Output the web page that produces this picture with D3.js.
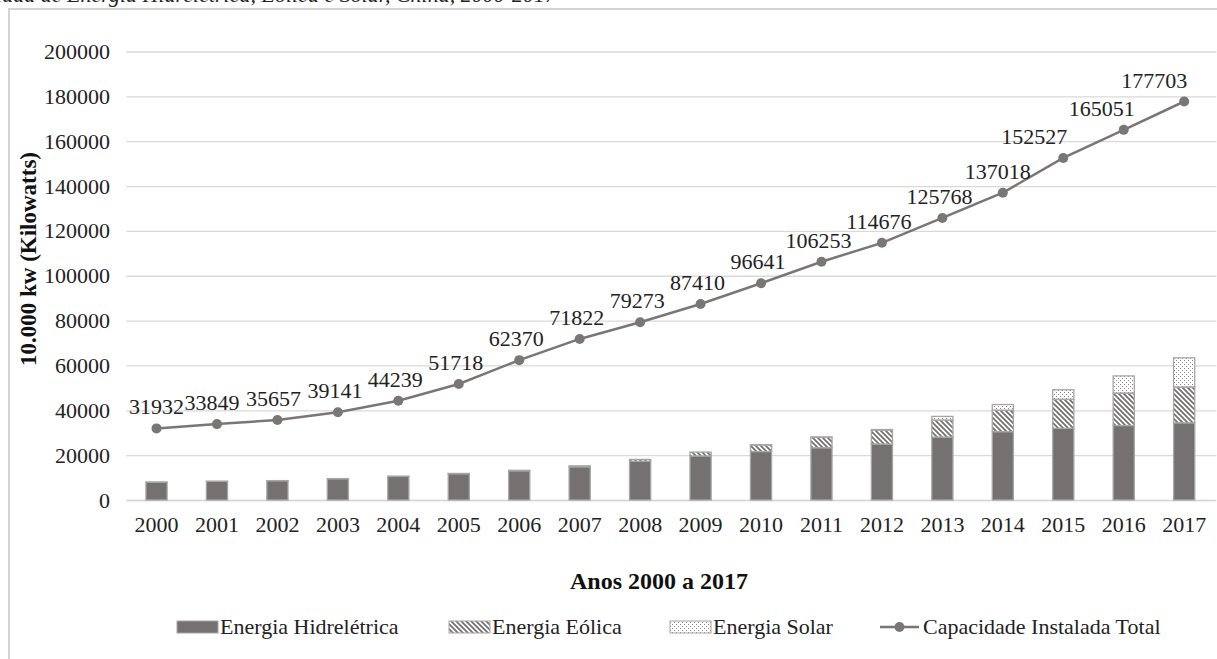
<!DOCTYPE html>
<html>
<head>
<meta charset="utf-8">
<script src="https://cdn.jsdelivr.net/npm/d3@7"></script>
<style>
  body { margin: 0; background: #fff; }
  svg { display: block; font-family: "Liberation Serif", "Times New Roman", serif; }
</style>
</head>
<body>
<div id="chart"></div>
<script>
// anos e valores (10.000 kW)
var years = ["2000", "2001", "2002", "2003", "2004", "2005", "2006", "2007", "2008",
  "2009", "2010", "2011", "2012", "2013", "2014", "2015", "2016", "2017"];
var hidro = [7935, 8300, 8600, 9490, 10520, 11740, 13030, 14820, 17260,
  19630, 21610, 23300, 24950, 28040, 30490, 31950, 33210, 34410];
var eolica = [30, 40, 50, 60, 80, 110, 210, 420, 840,
  1760, 2960, 4620, 6140, 7650, 9600, 13000, 14500, 16000];
var solar = [0, 0, 0, 0, 0, 0, 0, 0, 0,
  0, 80, 210, 340, 1590, 2490, 4220, 7630, 13000];
var total = [31932, 33849, 35657, 39141, 44239, 51718, 62370, 71822, 79273,
  87410, 96641, 106253, 114676, 125768, 137018, 152527, 165051, 177703];
var yTicks = [0, 20000, 40000, 60000, 80000, 100000, 120000, 140000, 160000, 180000, 200000];
var seriesNames = ["Energia Hidrelétrica", "Energia Eólica", "Energia Solar", "Capacidade Instalada Total"];

// deslocamento manual dos rótulos da linha (como no original)
var labelShift = [0, -5, -4, -3, -3, -3, -3, -3, -3, -3, -3, -3, -3, -3, -5, -29, -22, -30];

var width = 1217, height = 659;
var dark = "#767171", lineColor = "#7a7676", grid = "#d9d9d9";

var svg = d3.select("#chart").append("svg")
  .attr("width", width)
  .attr("height", height);

var defs = svg.append("defs");
var pw = defs.append("pattern").attr("id", "wind")
  .attr("patternUnits", "userSpaceOnUse").attr("width", 5).attr("height", 5);
pw.append("rect").attr("width", 5).attr("height", 5).attr("fill", "#fff");
pw.append("path").attr("d", "M0,0L5,5M-1,4L1,6M4,-1L6,1")
  .attr("stroke", dark).attr("stroke-width", 1.8);

var ps = defs.append("pattern").attr("id", "sun")
  .attr("patternUnits", "userSpaceOnUse").attr("width", 4).attr("height", 4);
ps.append("rect").attr("width", 4).attr("height", 4).attr("fill", "#fff");
ps.append("rect").attr("x", 0).attr("y", 0).attr("width", 1).attr("height", 1).attr("fill", "#8a8686");
ps.append("rect").attr("x", 2).attr("y", 2).attr("width", 1).attr("height", 1).attr("fill", "#8a8686");

// moldura
svg.append("rect").attr("x", 9).attr("y", 9).attr("width", 1400).attr("height", 800)
  .attr("fill", "none").attr("stroke", "#d4d4d4").attr("stroke-width", 2);

// titulo cortado no topo
svg.append("text")
  .attr("x", 556).attr("y", 2)
  .attr("text-anchor", "end")
  .attr("font-style", "italic")
  .attr("font-size", 22)
  .attr("fill", "#222")
  .text("Capacidade Instalada de Energia Hidrelétrica, Eólica e Solar, China, 2000-2017");

var x = d3.scaleBand().domain(years).range([126.3, 1214.4]).padding(0);
var y = d3.scaleLinear().domain([0, 200000]).range([500, 51.5]);
var barW = x.bandwidth() * 0.35;

// grade
svg.append("g")
  .attr("transform", "translate(126.3,0)")
  .call(d3.axisLeft(y).tickValues(yTicks).tickSize(-1090).tickFormat(""))
  .call(g => g.select(".domain").remove())
  .call(g => g.selectAll("line").attr("stroke", grid).attr("stroke-width", 1.3));

// rotulos do eixo y
svg.append("g")
  .attr("transform", "translate(110,0)")
  .call(d3.axisLeft(y).tickValues(yTicks).tickSize(0).tickPadding(0).tickFormat(d3.format("d")))
  .call(g => g.select(".domain").remove())
  .call(g => g.selectAll("text").attr("font-size", 22).attr("fill", "#222")
    .attr("font-family", "Liberation Serif"));

// eixo x
svg.append("g")
  .attr("transform", "translate(0,500)")
  .call(d3.axisBottom(x).tickSize(0).tickPadding(16))
  .call(g => g.select(".domain").attr("stroke", grid).attr("stroke-width", 1.3))
  .call(g => g.selectAll("text").attr("font-size", 22).attr("fill", "#222")
    .attr("font-family", "Liberation Serif"));

// barras empilhadas
var rows = years.map((yr, i) => ({ year: yr, hidro: hidro[i], eolica: eolica[i], solar: solar[i] }));
var stack = d3.stack().keys(["hidro", "eolica", "solar"])(rows);
var fills = { hidro: dark, eolica: "url(#wind)", solar: "url(#sun)" };

svg.append("g").selectAll("g")
  .data(stack)
  .enter().append("g")
  .attr("fill", d => fills[d.key])
  .selectAll("rect")
  .data(d => d)
  .enter().append("rect")
  .filter(d => d[1] - d[0] > 0)
  .attr("x", d => x(d.data.year) + (x.bandwidth() - barW) / 2)
  .attr("y", d => y(d[1]))
  .attr("width", barW)
  .attr("height", d => y(d[0]) - y(d[1]))
  .attr("stroke", "#a6a6a6")
  .attr("stroke-width", 1.3);

// linha total
var cx = d => x(d) + x.bandwidth() / 2;
var line = d3.line().x((d, i) => cx(years[i])).y(d => y(d));
svg.append("path")
  .datum(total)
  .attr("d", line)
  .attr("fill", "none")
  .attr("stroke", lineColor)
  .attr("stroke-width", 2.5);

svg.append("g").selectAll("circle")
  .data(total)
  .enter().append("circle")
  .attr("cx", (d, i) => cx(years[i]))
  .attr("cy", d => y(d))
  .attr("r", 5)
  .attr("fill", lineColor);

svg.append("g").selectAll("text")
  .data(total)
  .enter().append("text")
  .attr("x", (d, i) => cx(years[i]) + labelShift[i])
  .attr("y", d => y(d) - 14)
  .attr("text-anchor", "middle")
  .attr("font-size", 22)
  .attr("fill", "#222")
  .text(d => d);

// titulos dos eixos
svg.append("text")
  .attr("transform", "translate(36,259) rotate(-90)")
  .attr("text-anchor", "middle")
  .attr("font-weight", "bold")
  .attr("font-size", 23)
  .attr("fill", "#111")
  .text("10.000 kw (Kilowatts)");

svg.append("text")
  .attr("x", 659).attr("y", 589)
  .attr("text-anchor", "middle")
  .attr("font-weight", "bold")
  .attr("font-size", 24)
  .attr("fill", "#111")
  .text("Anos 2000 a 2017");

// legenda
var legX = [177, 449, 670, 880];
var legY = 627;
var leg = svg.append("g");
["hidro", "eolica", "solar"].forEach((k, i) => {
  leg.append("rect")
    .attr("x", legX[i]).attr("y", legY - 6)
    .attr("width", 41).attr("height", 12)
    .attr("fill", fills[k])
    .attr("stroke", "#a6a6a6").attr("stroke-width", 1);
});
leg.append("line")
  .attr("x1", legX[3]).attr("x2", legX[3] + 39)
  .attr("y1", legY).attr("y2", legY)
  .attr("stroke", lineColor).attr("stroke-width", 2.5);
leg.append("circle")
  .attr("cx", legX[3] + 19.5).attr("cy", legY).attr("r", 5)
  .attr("fill", lineColor);
seriesNames.forEach((name, i) => {
  leg.append("text")
    .attr("x", legX[i] + 43).attr("y", legY + 7)
    .attr("font-size", 22)
    .attr("fill", "#222")
    .text(name);
});
</script>
</body>
</html>
